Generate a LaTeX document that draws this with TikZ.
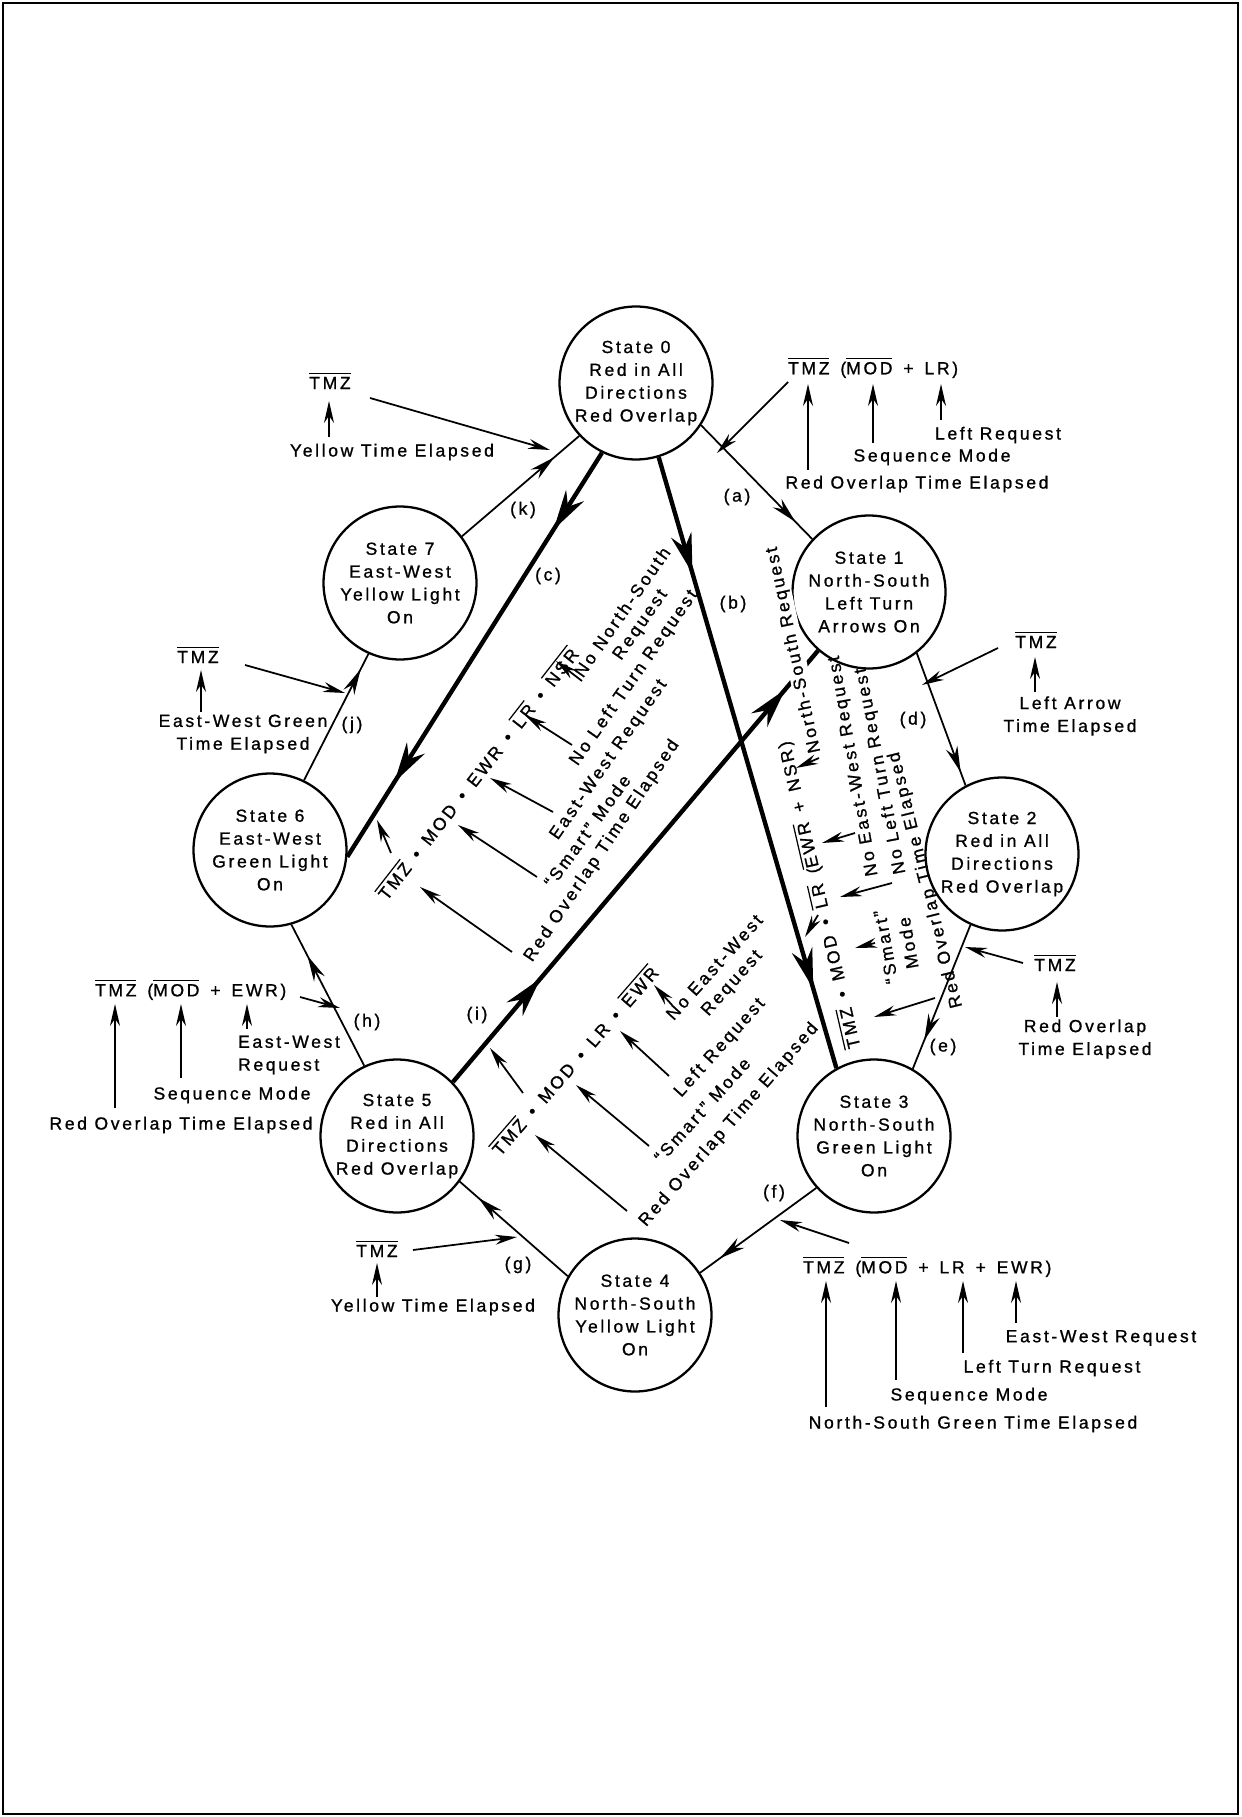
\documentclass[tikz,border=0pt]{standalone}
\usepackage{fontspec}
\setmainfont{Liberation Sans}[LetterSpace=15,FakeBold=1]
\usepackage{tikz}
\usetikzlibrary{arrows.meta}
\usetikzlibrary{decorations.markings}
\newcommand{\lblfont}{\fontsize{10}{13}\selectfont}
\newcommand{\frmfont}{\fontsize{10}{13}\selectfont\spaceskip=6.2pt\relax}
\newcommand{\ov}[1]{\leavevmode\setbox0\hbox{#1}\vbox{\hrule height 0.7pt width \wd0\kern1.6pt\box0}}
\tikzset{
  state/.style={circle,draw,line width=1.3pt,minimum size=3.06cm,inner sep=-4pt,align=center,font=\lblfont},
  lbl/.style={inner sep=1pt,align=center,font=\lblfont},
  frm/.style={inner sep=1pt,font=\frmfont},
  trans/.style={line width=1pt},
  maintrans/.style={line width=2.5pt},
  inarr/.style={line width=1pt,-{Stealth[length=0.44cm,width=0.2cm]}},
  midarr/.style={postaction={decorate},decoration={markings,
    mark=at position #1 with {\arrow{Stealth[length=0.52cm,width=0.24cm]}}}},
  twoarr/.style 2 args={postaction={decorate},decoration={markings,
    mark=at position #1 with {\arrow{Stealth[length=0.8cm,width=0.42cm]}},
    mark=at position #2 with {\arrow{Stealth[length=0.8cm,width=0.42cm]}}}}
}
\begin{document}
\begin{tikzpicture}[x=0.02cm,y=-0.02cm]
    \useasboundingbox (0,0) rectangle (1241,1817);
    \draw[line width=1pt] (3,3) rectangle (1238,1814);

    \node[state] (s0) at (636,383) {State 0\\Red in All\\Directions\\Red Overlap};
    \node[state] (s1) at (869,592) {State 1\\North-South\\Left Turn\\Arrows On};
    \node[state] (s2) at (1002,854) {State 2\\Red in All\\Directions\\Red Overlap};
    \node[state] (s3) at (874,1136) {State 3\\North-South\\Green Light\\On};
    \node[state] (s4) at (635,1315) {State 4\\North-South\\Yellow Light\\On};
    \node[state] (s5) at (397,1136) {State 5\\Red in All\\Directions\\Red Overlap};
    \node[state] (s6) at (270,850) {State 6\\East-West\\Green Light\\On};
    \node[state] (s7) at (400,583) {State 7\\East-West\\Yellow Light\\On};

    \draw[trans,midarr=0.85] (s0.-33) -- (s1.137);
    \draw[maintrans,twoarr={0.19}{0.87}] (s0.-73) -- (s3.119);
    \draw[maintrans,twoarr={0.19}{0.815}] (s0.-116) -- (s6.-5);
    \draw[trans,midarr=0.9] (s1.-52) -- (s2.118);
    \draw[trans,midarr=0.8] (s2.-114) -- (s3.60);
    \draw[trans,midarr=0.83] (s3.-138) -- (s4.33);
    \draw[trans,midarr=0.83] (s4.150) -- (s5.-36);
    \draw[trans,midarr=0.78] (s5.115) -- (s6.-74);
    \draw[maintrans,twoarr={0.24}{0.91}] (s5.44) -- (s1.-131);
    \draw[trans,midarr=0.88] (s6.64) -- (s7.-114);
    \draw[trans,midarr=0.79] (s7.37) -- (s0.-137.5);

    \node[lbl] (la) at (737,497) {(a)};
    \node[lbl] (lb) at (733,604) {(b)};
    \node[lbl] (lc) at (548,576) {(c)};
    \node[lbl] (ld) at (913,720) {(d)};
    \node[lbl] (le) at (943,1047) {(e)};
    \node[lbl] (lf) at (774,1193) {(f)};
    \node[lbl] (lg) at (518,1265) {(g)};
    \node[lbl] (lh) at (367,1022) {(h)};
    \node[lbl] (li) at (477,1015) {(i)};
    \node[lbl] (lj) at (352,725) {(j)};
    \node[lbl] (lk) at (523,510) {(k)};

    \node[lbl] (tmzk) at (330,381) {\ov{TMZ}};
    \node[lbl] (yelk) at (392,452) {Yellow Time Elapsed};
    \coordinate (k1) at (370,398);
    \coordinate (k2) at (550,450);
    \coordinate (k3) at (329,437);
    \coordinate (k4) at (329,401);
    \draw[inarr] (k1) -- (k2);
    \draw[inarr] (k3) -- (k4);

    \node[frm,anchor=west] (fa) at (786,368) {\ov{TMZ} (\ov{MOD} + LR)};
    \node[lbl] (lra) at (998,435) {Left Request};
    \node[lbl] (sma) at (932,457) {Sequence Mode};
    \node[lbl] (roa) at (917,484) {Red Overlap Time Elapsed};
    \coordinate (a1) at (788,382);
    \coordinate (a2) at (717,453);
    \coordinate (a3) at (808,470);
    \coordinate (a4) at (808,384);
    \coordinate (a5) at (873,443);
    \coordinate (a6) at (873,384);
    \coordinate (a7) at (941,420);
    \coordinate (a8) at (941,384);
    \draw[inarr] (a1) -- (a2);
    \draw[inarr] (a3) -- (a4);
    \draw[inarr] (a5) -- (a6);
    \draw[inarr] (a7) -- (a8);

    \node[lbl] (tmzd) at (1036,640) {\ov{TMZ}};
    \node[lbl] (lad) at (1070,716) {Left Arrow\\Time Elapsed};
    \coordinate (d1) at (998,648);
    \coordinate (d2) at (922,685);
    \coordinate (d3) at (1035,692);
    \coordinate (d4) at (1035,657);
    \draw[inarr] (d1) -- (d2);
    \draw[inarr] (d3) -- (d4);

    \node[lbl] (tmze) at (1055,963) {\ov{TMZ}};
    \node[lbl] (roe) at (1085,1039) {Red Overlap\\Time Elapsed};
    \coordinate (e1) at (1023,963);
    \coordinate (e2) at (965,947);
    \coordinate (e3) at (1057,1017);
    \coordinate (e4) at (1057,982);
    \draw[inarr] (e1) -- (e2);
    \draw[inarr] (e3) -- (e4);

    \node[frm,anchor=west] (ff) at (801,1267) {\ov{TMZ} (\ov{MOD} + LR + EWR)};
    \node[lbl] (ewf) at (1101,1338) {East-West Request};
    \node[lbl] (ltf) at (1052,1368) {Left Turn Request};
    \node[lbl] (smf) at (969,1396) {Sequence Mode};
    \node[lbl] (nsf) at (973,1424) {North-South Green Time Elapsed};
    \coordinate (f1) at (849,1243);
    \coordinate (f2) at (780,1220);
    \coordinate (f3) at (826,1407);
    \coordinate (f4) at (826,1281);
    \coordinate (f5) at (896,1380);
    \coordinate (f6) at (896,1281);
    \coordinate (f7) at (963,1353);
    \coordinate (f8) at (963,1281);
    \coordinate (f9) at (1016,1323);
    \coordinate (f10) at (1016,1281);
    \draw[inarr] (f1) -- (f2);
    \draw[inarr] (f3) -- (f4);
    \draw[inarr] (f5) -- (f6);
    \draw[inarr] (f7) -- (f8);
    \draw[inarr] (f9) -- (f10);

    \node[lbl] (tmzg) at (377,1249) {\ov{TMZ}};
    \node[lbl] (yelg) at (433,1307) {Yellow Time Elapsed};
    \coordinate (g1) at (413,1250);
    \coordinate (g2) at (517,1237);
    \coordinate (g3) at (377,1297);
    \coordinate (g4) at (377,1263);
    \draw[inarr] (g1) -- (g2);
    \draw[inarr] (g3) -- (g4);

    \node[frm,anchor=west] (fh) at (93,990) {\ov{TMZ} (\ov{MOD} + EWR)};
    \node[lbl,align=left,anchor=west] (ewh) at (236,1055) {East-West\\Request};
    \node[lbl] (smh) at (232,1095) {Sequence Mode};
    \node[lbl] (roh) at (181,1125) {Red Overlap Time Elapsed};
    \coordinate (h1) at (300,997);
    \coordinate (h2) at (340,1008);
    \coordinate (h3) at (115,1108);
    \coordinate (h4) at (115,1004);
    \coordinate (h5) at (181,1078);
    \coordinate (h6) at (181,1004);
    \coordinate (h7) at (247,1029);
    \coordinate (h8) at (247,1004);
    \draw[inarr] (h1) -- (h2);
    \draw[inarr] (h3) -- (h4);
    \draw[inarr] (h5) -- (h6);
    \draw[inarr] (h7) -- (h8);

    \node[lbl] (tmzj) at (198,655) {\ov{TMZ}};
    \node[lbl] (ewj) at (243,734) {East-West Green\\Time Elapsed};
    \coordinate (j1) at (245,665);
    \coordinate (j2) at (345,693);
    \coordinate (j3) at (201,712);
    \coordinate (j4) at (201,670);
    \draw[inarr] (j1) -- (j2);
    \draw[inarr] (j3) -- (j4);

    \node[frm,rotate=52] (fc) at (477,773) {\ov{TMZ} • MOD • EWR • \ov{LR} • \ov{NSR}};
    \node[lbl,rotate=55,font=\fontsize{10}{12}\selectfont] (nsc) at (632,619) {No North-South\\Request};
    \node[lbl,rotate=55] (ltc) at (634,678) {No Left Turn Request};
    \node[lbl,rotate=55] (ewc) at (609,760) {East-West Request};
    \node[lbl,rotate=54] (smc) at (587,831) {``Smart'' Mode};
    \node[lbl,rotate=56] (roc) at (602,851) {Red Overlap Time Elapsed};
    \coordinate (c1) at (582,681);
    \coordinate (c2) at (556,661);
    \coordinate (c3) at (572,745);
    \coordinate (c4) at (525,715);
    \coordinate (c5) at (553,812);
    \coordinate (c6) at (490,778);
    \coordinate (c7) at (537,877);
    \coordinate (c8) at (458,825);
    \coordinate (c9) at (512,952);
    \coordinate (c10) at (420,887);
    \coordinate (c11) at (391,853);
    \coordinate (c12) at (377,820);
    \draw[inarr] (c1) -- (c2);
    \draw[inarr] (c3) -- (c4);
    \draw[inarr] (c5) -- (c6);
    \draw[inarr] (c7) -- (c8);
    \draw[inarr] (c9) -- (c10);
    \draw[inarr] (c11) -- (c12);

    \node[frm,rotate=49] (fi) at (574,1060) {\ov{TMZ} • MOD • LR • \ov{EWR}};
    \node[lbl,rotate=48] (ewi) at (724,976) {No East-West\\Request};
    \node[lbl,rotate=48] (lri) at (720,1048) {Left Request};
    \node[lbl,rotate=48] (smi) at (702,1110) {``Smart'' Mode};
    \node[lbl,rotate=49] (roi) at (729,1125) {Red Overlap Time Elapsed};
    \coordinate (i1) at (672,1005);
    \coordinate (i2) at (654,985);
    \coordinate (i3) at (669,1076);
    \coordinate (i4) at (620,1031);
    \coordinate (i5) at (649,1146);
    \coordinate (i6) at (576,1085);
    \coordinate (i7) at (627,1211);
    \coordinate (i8) at (535,1135);
    \coordinate (i9) at (523,1093);
    \coordinate (i10) at (490,1048);
    \draw[inarr] (i1) -- (i2);
    \draw[inarr] (i3) -- (i4);
    \draw[inarr] (i5) -- (i6);
    \draw[inarr] (i7) -- (i8);
    \draw[inarr] (i9) -- (i10);

    \node[frm,rotate=103] (fb) at (819,895) {\ov{TMZ} • MOD • \ov{LR} (\ov{EWR} + NSR)};
    \node[lbl,rotate=102,fill=white] (nsb) at (794,650) {North-South Request};
    \node[lbl,rotate=100] (ewb) at (854,766) {No East-West Request};
    \node[lbl,rotate=101] (ltb) at (881,771) {No Left Turn Request};
    \node[lbl,rotate=100] (smb) at (897,945) {``Smart''\\Mode};
    \node[lbl,rotate=104] (rob) at (926,880) {Red Overlap Time Elapsed};
    \coordinate (b1) at (819,758);
    \coordinate (b2) at (796,768);
    \coordinate (b3) at (855,833);
    \coordinate (b4) at (822,843);
    \coordinate (b5) at (892,883);
    \coordinate (b6) at (840,897);
    \coordinate (b7) at (875,943);
    \coordinate (b8) at (855,948);
    \coordinate (b9) at (935,998);
    \coordinate (b10) at (874,1017);
    \coordinate (b11) at (818,915);
    \coordinate (b12) at (805,937);
    \draw[inarr] (b1) -- (b2);
    \draw[inarr] (b3) -- (b4);
    \draw[inarr] (b5) -- (b6);
    \draw[inarr] (b7) -- (b8);
    \draw[inarr] (b9) -- (b10);
    \draw[inarr] (b11) -- (b12);
\end{tikzpicture}
\end{document}
